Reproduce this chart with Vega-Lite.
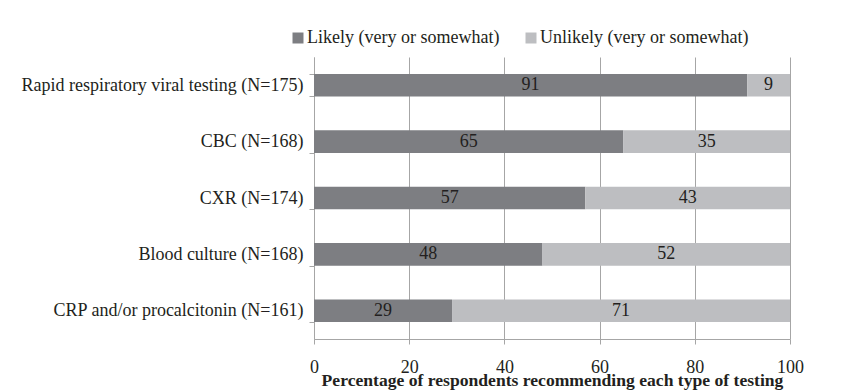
{
  "$schema": "https://vega.github.io/schema/vega-lite/v6.json",
  "width": 476,
  "height": 282,
  "autosize": {"type": "none"},
  "padding": {"left": 314, "top": 57, "right": 74, "bottom": 51},
  "background": "white",
  "config": {
    "view": {"stroke": null},
    "font": "Times New Roman, Liberation Serif, serif",
    "text": {"font": "Times New Roman, Liberation Serif, serif"}
  },
  "data": {
    "values": [
      {"test": "Rapid respiratory viral testing (N=175)", "category": "Likely (very or somewhat)", "value": 91},
      {"test": "Rapid respiratory viral testing (N=175)", "category": "Unlikely (very or somewhat)", "value": 9},
      {"test": "CBC (N=168)", "category": "Likely (very or somewhat)", "value": 65},
      {"test": "CBC (N=168)", "category": "Unlikely (very or somewhat)", "value": 35},
      {"test": "CXR (N=174)", "category": "Likely (very or somewhat)", "value": 57},
      {"test": "CXR (N=174)", "category": "Unlikely (very or somewhat)", "value": 43},
      {"test": "Blood culture (N=168)", "category": "Likely (very or somewhat)", "value": 48},
      {"test": "Blood culture (N=168)", "category": "Unlikely (very or somewhat)", "value": 52},
      {"test": "CRP and/or procalcitonin (N=161)", "category": "Likely (very or somewhat)", "value": 29},
      {"test": "CRP and/or procalcitonin (N=161)", "category": "Unlikely (very or somewhat)", "value": 71}
    ]
  },
  "layer": [
    {
      "mark": {"type": "bar"},
      "encoding": {
        "y": {
          "field": "test", "type": "nominal", "sort": null,
          "scale": {"paddingInner": 0.6, "paddingOuter": 0.3},
          "axis": {
            "title": null,
            "labelFont": "Times New Roman, Liberation Serif, serif", "labelFontSize": 18, "labelColor": "#231f20",
            "labelPadding": 6, "labelLimit": 400,
            "domainColor": "#a6a6a6", "tickColor": "#a6a6a6", "tickSize": 5,
            "tickBand": "extent", "tickOffset": -16.92
          }
        },
        "x": {
          "field": "value", "type": "quantitative", "stack": "zero",
          "scale": {"domain": [0, 100], "nice": false},
          "axis": {
            "values": [0, 20, 40, 60, 80, 100],
            "grid": true, "gridColor": "#a6a6a6", "gridWidth": 1,
            "domainColor": "#a6a6a6", "tickColor": "#a6a6a6", "tickSize": 5,
            "labelFont": "Times New Roman, Liberation Serif, serif", "labelFontSize": 18, "labelColor": "#231f20",
            "labelPadding": 14, "labelFlush": false,
            "title": "Percentage of respondents recommending each type of testing",
            "titleFont": "Times New Roman, Liberation Serif, serif", "titleFontSize": 17.6, "titleFontWeight": "bold",
            "titleColor": "#231f20", "titlePadding": -5
          }
        },
        "color": {
          "field": "category", "type": "nominal",
          "scale": {
            "domain": ["Likely (very or somewhat)", "Unlikely (very or somewhat)"],
            "range": ["#7d7e82", "#bdbec1"]
          },
          "legend": {
            "title": null, "orient": "none", "direction": "horizontal",
            "legendX": -25, "legendY": -28,
            "symbolType": "square", "symbolSize": 121, "symbolStrokeWidth": 0,
            "labelFont": "Times New Roman, Liberation Serif, serif", "labelFontSize": 18, "labelColor": "#231f20",
            "columnPadding": 22, "labelOffset": 0, "labelLimit": 400
          }
        }
      }
    },
    {
      "transform": [{"filter": "datum.category === 'Likely (very or somewhat)'"}],
      "mark": {"type": "text", "fontSize": 18, "color": "#231f20", "baseline": "middle", "align": "center", "font": "Times New Roman, Liberation Serif, serif"},
      "encoding": {
        "y": {"field": "test", "type": "nominal", "sort": null},
        "x": {"field": "value", "type": "quantitative", "scale": {"domain": [0, 200], "nice": false}, "axis": null},
        "text": {"field": "value", "type": "quantitative"}
      }
    },
    {
      "transform": [{"filter": "datum.category === 'Unlikely (very or somewhat)'"}],
      "mark": {"type": "text", "fontSize": 18, "color": "#231f20", "baseline": "middle", "align": "center", "font": "Times New Roman, Liberation Serif, serif"},
      "encoding": {
        "y": {"field": "test", "type": "nominal", "sort": null},
        "x": {"field": "value", "type": "quantitative", "scale": {"domain": [0, 200], "nice": false, "reverse": true}, "axis": null},
        "text": {"field": "value", "type": "quantitative"}
      }
    }
  ],
  "resolve": {"scale": {"x": "independent"}}
}
